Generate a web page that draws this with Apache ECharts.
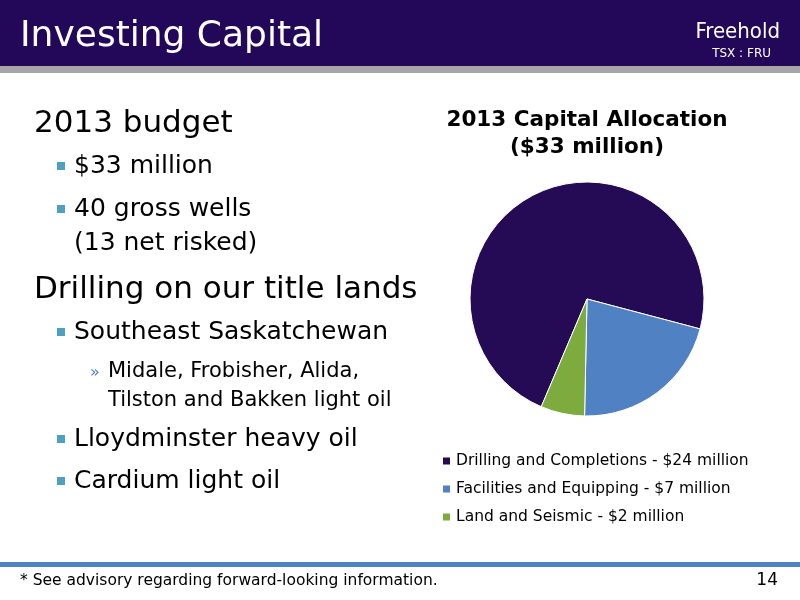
<!DOCTYPE html>
<html><head><meta charset="utf-8">
<script src="https://cdn.jsdelivr.net/npm/echarts@6/dist/echarts.min.js"></script>
<style>html,body{margin:0;padding:0;background:#fff}#c{width:800px;height:600px}</style>
</head><body><div id="c"></div>
<script>
var categories=['Drilling and Completions - $24 million','Facilities and Equipping - $7 million','Land and Seismic - $2 million'];
var values=[24,7,2];
var colors=['#250b56','#4f81c3','#7dab3e'];
var bullets=[
  {t:'2013 budget',x:34,y:124,s:31,lvl:0},
  {t:'$33 million',x:74,y:166,s:25,lvl:1},
  {t:'40 gross wells',x:74,y:209,s:25,lvl:1},
  {t:'(13 net risked)',x:74,y:243,s:25,lvl:-1},
  {t:'Drilling on our title lands',x:34,y:290,s:31,lvl:0},
  {t:'Southeast Saskatchewan',x:74,y:332,s:25,lvl:1},
  {t:'Midale, Frobisher, Alida,',x:108,y:372,s:21,lvl:2},
  {t:'Tilston and Bakken light oil',x:108,y:401,s:21,lvl:-1},
  {t:'Lloydminster heavy oil',x:74,y:439,s:25,lvl:1},
  {t:'Cardium light oil',x:74,y:481,s:25,lvl:1}
];
var chart=echarts.init(document.getElementById('c'));
var F='DejaVu Sans';
var g=[
  {type:'rect',shape:{x:0,y:0,width:800,height:66},style:{fill:'#23085a'}},
  {type:'rect',shape:{x:0,y:66,width:800,height:7},style:{fill:'#a6a6a6'}},
  {type:'text',x:20,y:37,style:{text:'Investing Capital',fill:'#fff',font:'36px '+F,textVerticalAlign:'middle'}},
  {type:'text',x:780,y:32,style:{text:'Freehold',fill:'#fff',font:'22px "Liberation Sans Narrow", "DejaVu Sans Condensed", sans-serif',textAlign:'right',textVerticalAlign:'middle'}},
  {type:'text',x:771,y:54,style:{text:'TSX : FRU',fill:'#fff',font:'12px '+F,textAlign:'right',textVerticalAlign:'middle'}},
  {type:'rect',shape:{x:0,y:562,width:800,height:5},style:{fill:'#4f81c3'}},
  {type:'text',x:20,y:581,style:{text:'* See advisory regarding forward-looking information.',fill:'#000',font:'15.5px '+F,textVerticalAlign:'middle'}},
  {type:'text',x:778,y:581,style:{text:'14',fill:'#000',font:'17px '+F,textAlign:'right',textVerticalAlign:'middle'}}
];
bullets.forEach(function(b){
  g.push({type:'text',x:b.x,y:b.y,style:{text:b.t,fill:'#000',font:b.s+'px '+F,textVerticalAlign:'middle'}});
  if(b.lvl===1)g.push({type:'rect',shape:{x:57,y:b.y-4,width:8,height:8},style:{fill:'#4f9fc0'}});
  if(b.lvl===2)g.push({type:'text',x:90,y:b.y+1,style:{text:'»',fill:'#4f81c3',font:'16px '+F,textVerticalAlign:'middle'}});
});
chart.setOption({
  animation:false,
  color:colors,
  title:{text:'2013 Capital Allocation\n($33 million)',left:582,top:102,textAlign:'center',
    textStyle:{fontFamily:F,fontSize:21.5,fontWeight:'bold',color:'#000',lineHeight:27}},
  legend:{orient:'vertical',left:436,top:448,itemWidth:9,itemHeight:9,itemGap:12,icon:'rect',
    textStyle:{fontFamily:F,fontSize:15.5,color:'#000'},data:categories},
  graphic:g,
  series:[{type:'pie',center:[587,299],radius:117,startAngle:247,label:{show:false},labelLine:{show:false},
    itemStyle:{borderColor:'#fff',borderWidth:1},
    data:categories.map(function(c,i){return {name:c,value:values[i]};})}]
});
</script></body></html>
